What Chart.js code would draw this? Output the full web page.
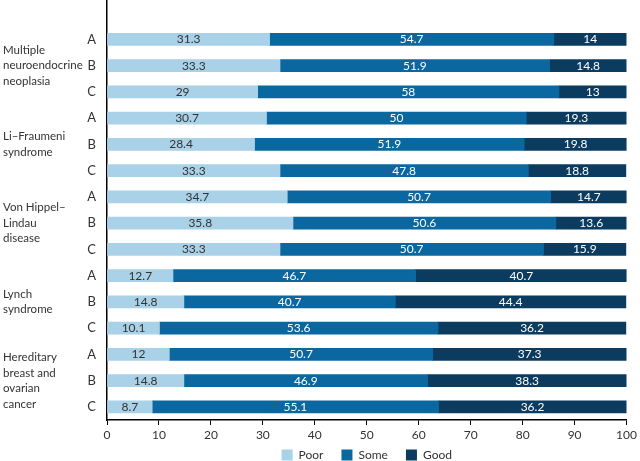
<!DOCTYPE html>
<html>
<head>
<meta charset="utf-8">
<script src="https://cdn.jsdelivr.net/npm/chart.js@4"></script>
<style>
  html, body { margin: 0; padding: 0; background: #fff; }
  #wrap { width: 640px; height: 461px; position: relative; }
</style>
</head>
<body>
<div id="wrap"><canvas id="chart"></canvas></div>
<script>
// ── Data ─────────────────────────────────────────────────────
const groupNames = [
  ['Multiple', 'neuroendocrine', 'neoplasia'],
  ['Li–Fraumeni', 'syndrome'],
  ['Von Hippel–', 'Lindau', 'disease'],
  ['Lynch', 'syndrome'],
  ['Hereditary', 'breast and', 'ovarian', 'cancer'],
];
const subLabels = ['A', 'B', 'C'];
const seriesNames = ['Poor', 'Some', 'Good'];

const poor = [31.3, 33.3, 29, 30.7, 28.4, 33.3, 34.7, 35.8, 33.3, 12.7, 14.8, 10.1, 12, 14.8, 8.7];
const some = [54.7, 51.9, 58, 50, 51.9, 47.8, 50.7, 50.6, 50.7, 46.7, 40.7, 53.6, 50.7, 46.9, 55.1];
const good = [14, 14.8, 13, 19.3, 19.8, 18.8, 14.7, 13.6, 15.9, 40.7, 44.4, 36.2, 37.3, 38.3, 36.2];

const xTicks = [0, 10, 20, 30, 40, 50, 60, 70, 80, 90, 100];

const colors = ['#a9d1e7', '#0b67a0', '#0b3b5f'];
const labelColors = ['#333333', '#ffffff', '#ffffff'];
const FONT = "Lato, sans-serif";

// one empty band on top, like the reference
const catLabels = [''];
groupNames.forEach(() => subLabels.forEach(s => catLabels.push(s)));
const pad = arr => [null, ...arr];

// ── Plugins ──────────────────────────────────────────────────
const valueLabels = {
  id: 'valueLabels',
  afterDatasetsDraw(chart) {
    const ctx = chart.ctx;
    ctx.save();
    ctx.font = `12px ${FONT}`;
    ctx.textAlign = 'center';
    ctx.textBaseline = 'middle';
    chart.data.datasets.forEach((ds, di) => {
      const meta = chart.getDatasetMeta(di);
      ctx.fillStyle = labelColors[di];
      meta.data.forEach((bar, i) => {
        const v = ds.data[i];
        if (v == null) return;
        const cx = (bar.x + bar.base) / 2;
        ctx.fillText(String(v), cx, bar.y);
      });
    });
    ctx.restore();
  },
};

const groupLabels = {
  id: 'groupLabels',
  afterDraw(chart) {
    const ctx = chart.ctx;
    const y = chart.scales.y;
    const lh = 15.5;
    ctx.save();
    ctx.font = `11.5px ${FONT}`;
    ctx.fillStyle = '#333333';
    ctx.textAlign = 'left';
    ctx.textBaseline = 'middle';
    groupNames.forEach((lines, g) => {
      const mid = y.getPixelForValue(1 + g * 3 + 1);
      const top = mid - (lines.length - 1) * lh / 2;
      lines.forEach((t, k) => ctx.fillText(t, 3, top + k * lh));
    });
    ctx.restore();
  },
};

// keep the legend low and tight under the tick labels, centred on the plot
const LEGEND_H = 15;
const tightLegend = {
  id: 'tightLegend',
  beforeLayout(chart) {
    const lg = chart.legend;
    if (lg && !lg._tight) {
      const fit = lg.fit.bind(lg);
      lg.fit = function () { fit(); this.height = LEGEND_H; };
      lg._tight = true;
    }
  },
  afterLayout(chart) {
    const lg = chart.legend;
    const p = lg.options.labels.padding;
    lg.top = chart.height - 6 - 6 - p;
    lg.bottom = chart.height;
    lg.height = lg.bottom - lg.top;
    lg.left = chart.chartArea.left;
    lg.right = chart.chartArea.right;
    lg.width = lg.right - lg.left;
  },
};

// ── Chart ────────────────────────────────────────────────────
new Chart(document.getElementById('chart'), {
  type: 'bar',
  data: {
    labels: catLabels,
    datasets: [poor, some, good].map((d, i) => ({
      label: seriesNames[i],
      data: pad(d),
      backgroundColor: colors[i],
      borderWidth: 0,
      barThickness: 12,
    })),
  },
  options: {
    indexAxis: 'y',
    responsive: true,
    maintainAspectRatio: false,
    animation: false,
    layout: { padding: { top: 0, right: 8, left: 0, bottom: 0 } },
    plugins: {
      tooltip: { enabled: false },
      legend: {
        position: 'bottom',
        labels: {
          boxWidth: 11,
          boxHeight: 11,
          padding: 18,
          color: '#333333',
          font: { family: FONT, size: 12 },
        },
      },
    },
    scales: {
      x: {
        stacked: true,
        min: 0,
        max: 100,
        afterBuildTicks: s => { s.ticks = xTicks.map(v => ({ value: v })); },
        afterFit: s => { s.height = 26; },
        grid: { drawOnChartArea: false, drawTicks: true, tickLength: 5, color: '#000' },
        border: { color: '#000', width: 1.5 },
        ticks: { color: '#333333', font: { family: FONT, size: 12 }, padding: 3, maxRotation: 0 },
      },
      y: {
        stacked: true,
        grid: { display: false },
        border: { color: '#000', width: 1.5 },
        ticks: { color: '#333333', font: { family: FONT, size: 13 }, padding: 3 },
        afterFit: s => { s.width = 107; s.paddingTop = 0; s.paddingBottom = 0; },
      },
    },
  },
  plugins: [valueLabels, groupLabels, tightLegend],
});
</script>
</body>
</html>
